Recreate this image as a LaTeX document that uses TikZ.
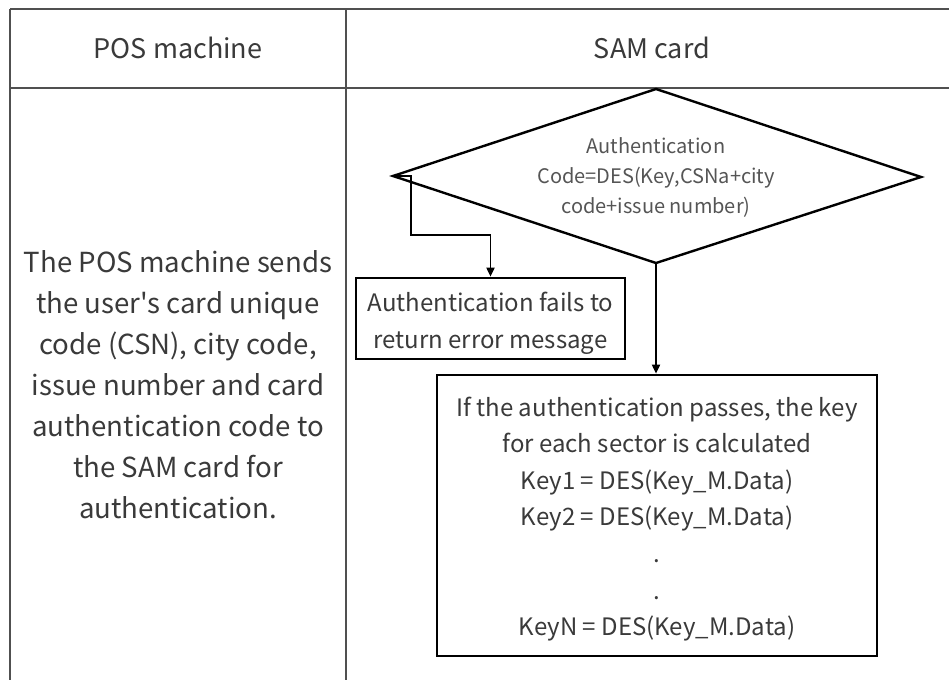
\documentclass[tikz,border=0pt]{standalone}
\usepackage{fontspec}
\setmainfont{Noto Sans CJK SC}[Ligatures=TeXOff]
\usetikzlibrary{arrows.meta}
\definecolor{txt}{HTML}{3A3A3A}
\definecolor{dtxt}{HTML}{555555}
\definecolor{grid}{HTML}{505050}
\tikzset{
  tableline/.style={draw=grid, line width=1.6pt},
  shapeline/.style={draw=black, line width=2.4pt},
  stepbox/.style={draw=black, line width=2.7pt, rectangle, inner sep=0pt},
  conn/.style={draw=black, line width=1.8pt, -{Triangle[length=9pt,width=8pt]}},
  headtext/.style={text=txt, font=\fontsize{27}{32}\selectfont},
  lefttext/.style={text=txt, align=center, font=\fontsize{27.6}{41}\selectfont},
  dtext/.style={text=dtxt, align=center, font=\fontsize{20}{30}\selectfont},
}
\begin{document}
\begin{tikzpicture}[x=1pt,y=-1pt]
\useasboundingbox (0,0) rectangle (949,680);
\fill[white] (0,0) rectangle (949,680);
% table
\draw[tableline] (10,9) -- (949,9);
\draw[tableline] (10,88) -- (949,88);
\draw[tableline] (10,9) -- (10,680);
\draw[tableline] (346,9) -- (346,680);
\node[headtext] (hpos) at (178,48) {POS machine};
\node[headtext] (hsam) at (652,48) {SAM card};
\node[lefttext] (ltext) at (178,385) {The POS machine sends\\the user's card unique\\code (CSN), city code,\\issue number and card\\authentication code to\\the SAM card for\\authentication.};
% diamond
\coordinate (dt) at (656,89);
\coordinate (dr) at (921,177);
\coordinate (db) at (656,263);
\coordinate (dl) at (393,176);
\draw[shapeline, line join=miter] (dt) -- (dr) -- (db) -- (dl) -- cycle;
\node[dtext] (dlabel) at (656,177) {Authentication\\Code=DES(Key,CSNa+city\\code+issue number)};
% boxes
\node[stepbox, minimum width=269pt, minimum height=81pt] (fail) at (490.5,318.5) {};
\node[text=txt, align=center, font=\fontsize{24}{37}\selectfont] (failtext) at (490.5,323) {Authentication fails to\\return error message};
\node[stepbox, minimum width=440pt, minimum height=281pt] (pass) at (657,515.5) {};
\node[text=txt, align=center, font=\fontsize{24}{36.6}\selectfont] (passtext) at (657,519) {If the authentication passes, the key\\for each sector is calculated\\Key1 = DES(Key\_M.Data)\\Key2 = DES(Key\_M.Data)\\.\\.\\KeyN = DES(Key\_M.Data)};
% connectors
\coordinate (k1) at (411,235);
\draw[conn] (dl) -| (k1) -| (fail.north);
\draw[conn] (db) -- (db |- pass.north);
\end{tikzpicture}
\end{document}
